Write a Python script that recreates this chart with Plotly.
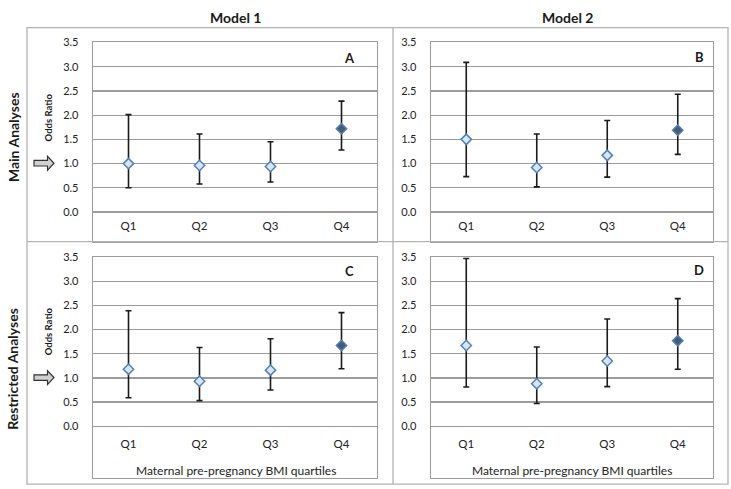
import plotly.graph_objects as go

# ---------------- data ----------------
quartiles = ["Q1", "Q2", "Q3", "Q4"]
ytick_vals = [0.0, 0.5, 1.0, 1.5, 2.0, 2.5, 3.0, 3.5]
ytick_text = ["0.0", "0.5", "1.0", "1.5", "2.0", "2.5", "3.0", "3.5"]

or_A = [1.00, 0.96, 0.94, 1.72]
upper_A = [2.01, 1.61, 1.45, 2.29]
lower_A = [0.50, 0.58, 0.62, 1.28]

or_B = [1.50, 0.92, 1.17, 1.69]
upper_B = [3.09, 1.61, 1.89, 2.43]
lower_B = [0.73, 0.52, 0.72, 1.19]

or_C = [1.18, 0.93, 1.16, 1.67]
upper_C = [2.39, 1.63, 1.81, 2.35]
lower_C = [0.59, 0.53, 0.75, 1.19]

or_D = [1.67, 0.88, 1.35, 1.77]
upper_D = [3.47, 1.64, 2.22, 2.64]
lower_D = [0.81, 0.47, 0.82, 1.18]

panel_letters = ["A", "B", "C", "D"]
col_titles = ["Model 1", "Model 2"]
row_titles = ["Main Analyses", "Restricted Analyses"]
y_title = "Odds Ratio"
x_title = "Maternal pre-pregnancy BMI quartiles"

# ---------------- layout helpers ----------------
W, H = 731, 489
def px(x):
    return x / W
def py(y):
    return 1 - y / H

FONT = "Lato, Carlito, 'Open Sans', sans-serif"
GRID = "#9c9c9c"
FRAME = "#b3b3b3"
light_fill = "#dbe5f1"
dark_fill = "#4a5b70"
edge = "#4f81bd"

fig = go.Figure()

panels = [
    (or_A, upper_A, lower_A, "x", "y"),
    (or_B, upper_B, lower_B, "x2", "y2"),
    (or_C, upper_C, lower_C, "x3", "y3"),
    (or_D, upper_D, lower_D, "x4", "y4"),
]
for vals, up, lo, xa, ya in panels:
    fig.add_trace(go.Scatter(
        x=quartiles, y=vals, mode="markers", xaxis=xa, yaxis=ya,
        marker=dict(symbol="diamond", size=8,
                    color=[light_fill, light_fill, light_fill, dark_fill],
                    line=dict(color=edge, width=1.5)),
        error_y=dict(type="data", symmetric=False,
                     array=[u - v for u, v in zip(up, vals)],
                     arrayminus=[v - l for v, l in zip(vals, lo)],
                     color="#1a1a1a", thickness=1.6, width=3),
        showlegend=False, hoverinfo="skip",
    ))

# domains in pixels
xdoms = [(93, 377), (431, 713)]
ydoms = [(36, 238), (253.7, 478)]
yranges = [[-0.61, 3.5], [-1.075, 3.5]]

layout = dict(
    width=W, height=H, margin=dict(l=0, r=0, t=0, b=0),
    paper_bgcolor="white", plot_bgcolor="white",
    font=dict(family=FONT, color="#222222", size=11),
)
for i in range(4):
    r, c = divmod(i, 2)
    sx = "" if i == 0 else str(i + 1)
    layout["xaxis" + sx] = dict(
        domain=[px(xdoms[c][0]), px(xdoms[c][1])],
        anchor="y" + sx, type="category", range=[-0.5, 3.5],
        showgrid=False, zeroline=False,
        showline=True, mirror=True, linecolor=GRID, linewidth=1.3,
        ticks="", ticklabelposition="inside",
        ticklabelstandoff=(9 if r == 0 else 27),
        tickfont=dict(size=11.5, color="#222222"),
    )
    layout["yaxis" + sx] = dict(
        domain=[py(ydoms[r][1]), py(ydoms[r][0])],
        anchor="x" + sx, range=yranges[r],
        tickvals=ytick_vals, ticktext=ytick_text,
        showgrid=True, gridcolor=GRID, gridwidth=1.3, zeroline=False,
        showline=True, mirror=True, linecolor=GRID, linewidth=1.3,
        ticks="outside", ticklen=11, tickcolor="rgba(0,0,0,0)",
        tickfont=dict(size=11, color="#222222"),
    )
fig.update_layout(**layout)

shapes = []
# outer frame and separators
shapes.append(dict(type="rect", xref="paper", yref="paper",
                   x0=px(27), x1=px(728), y0=py(484), y1=py(21),
                   line=dict(color=FRAME, width=1.3)))
shapes.append(dict(type="line", xref="paper", yref="paper",
                   x0=px(393), x1=px(393), y0=py(484), y1=py(21),
                   line=dict(color=FRAME, width=1.3)))
shapes.append(dict(type="line", xref="paper", yref="paper",
                   x0=px(27), x1=px(728), y0=py(238), y1=py(238),
                   line=dict(color=FRAME, width=1.3)))

# block arrows pointing at OR = 1.0
def arrow(cy):
    pts = [(34, cy - 2.8), (47.5, cy - 2.8), (47.5, cy - 7), (54, cy),
           (47.5, cy + 7), (47.5, cy + 2.8), (34, cy + 2.8)]
    d = "M " + " L ".join(f"{px(x):.5f},{py(y):.5f}" for x, y in pts) + " Z"
    return dict(type="path", xref="paper", yref="paper", path=d,
                fillcolor="#d0d0d0", line=dict(color="#333333", width=1.2))
shapes.append(arrow(158.5))
shapes.append(arrow(376))
fig.update_layout(shapes=shapes)

ann = []
# column titles
for c, t in enumerate(col_titles):
    ann.append(dict(text=f"<b>{t}</b>", xref="paper", yref="paper",
                    x=px([235, 567][c]), y=py(11), showarrow=False,
                    font=dict(size=14, color="#1a1a1a"),
                    xanchor="center", yanchor="middle"))
# row titles
for r, t in enumerate(row_titles):
    ann.append(dict(text=f"<b>{t}</b>", xref="paper", yref="paper",
                    x=px(13), y=py([132, 367][r]), showarrow=False,
                    textangle=-90, font=dict(size=14, color="#1a1a1a"),
                    xanchor="center", yanchor="middle"))
    ann.append(dict(text=f"<b>{y_title}</b>", xref="paper", yref="paper",
                    x=px(48), y=py([112, 329][r]), showarrow=False,
                    textangle=-90, font=dict(size=9.5, color="#1a1a1a"),
                    xanchor="center", yanchor="middle"))
# panel letters
letter_pos = [(349, 52), (699, 51), (349, 268), (699, 267)]
for L, (x, y) in zip(panel_letters, letter_pos):
    ann.append(dict(text=f"<b>{L}</b>", xref="paper", yref="paper",
                    x=px(x), y=py(y), showarrow=False,
                    font=dict(size=13, color="#1a1a1a"),
                    xanchor="center", yanchor="middle"))
# x titles in bottom panels
for c in range(2):
    ann.append(dict(text=x_title, xref="paper", yref="paper",
                    x=px([236, 572][c]), y=py(470), showarrow=False,
                    font=dict(size=12, color="#222222"),
                    xanchor="center", yanchor="middle"))
fig.update_layout(annotations=ann)

fig.write_html(
    "out.html",
    config={"displayModeBar": False, "staticPlot": True},
    post_script=(
        "document.body.style.margin='0';"
        "document.body.style.overflow='hidden';"
        "var gd=document.getElementById('{plot_id}');"
        "gd.style.position='fixed';gd.style.top='0px';gd.style.left='0px';"
    ),
)
